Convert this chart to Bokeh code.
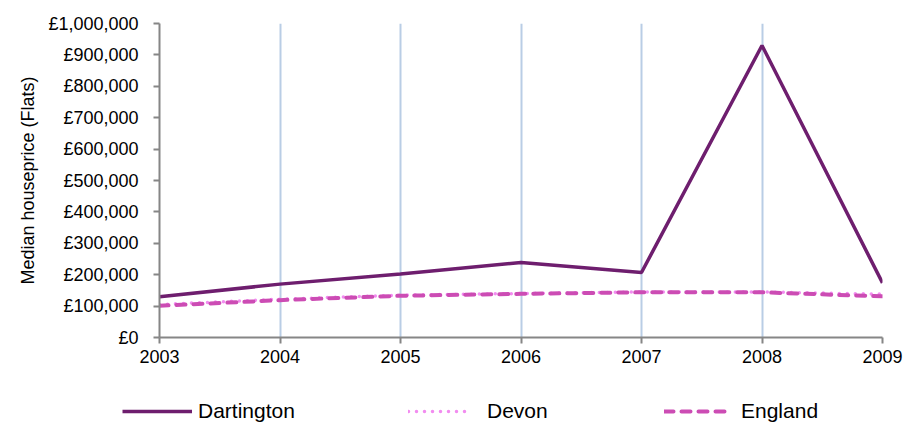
from bokeh.plotting import figure
from bokeh.layouts import column, row
from bokeh.models import Range1d, Legend, LegendItem, CustomJSTickFormatter, FixedTicker, LinearAxis
from bokeh.embed import file_html
from bokeh.resources import INLINE

years = [2003, 2004, 2005, 2006, 2007, 2008, 2009]
dartington = [130000, 170000, 202000, 239000, 207000, 930000, 174000]
devon = [105000, 122000, 135000, 140000, 145000, 145000, 138000]
england = [101000, 119000, 133000, 139000, 144000, 144000, 131000]
y_ticks = [0, 100000, 200000, 300000, 400000, 500000, 600000, 700000, 800000, 900000, 1000000]
series_names = ["Dartington", "Devon", "England"]
y_title = "Median houseprice (Flats)"

FONT = "Liberation Sans"
C_DART = "#6E1E6E"
C_DEV = "#F28CF0"
C_ENG = "#CC4CB4"


def add_lines(fig):
    a = fig.line(years, dartington, line_color=C_DART, line_width=3.5)
    b = fig.line(years, devon, line_color=C_DEV, line_width=3.5, line_dash="0 8", line_cap="round")
    c = fig.line(years, england, line_color=C_ENG, line_width=4, line_dash="9 8", line_cap="round")
    return a, b, c


p = figure(width=920, height=372, output_backend="svg", toolbar_location=None,
           x_range=Range1d(2003, 2009), y_range=Range1d(0, 1000000),
           min_border_left=159, min_border_right=38, min_border_top=23, min_border_bottom=35)
p.outline_line_color = None
p.background_fill_color = "white"
p.border_fill_color = "white"

p.xgrid.grid_line_color = "#B9CDE5"
p.xgrid.grid_line_width = 2
p.ygrid.grid_line_color = None

add_lines(p)

p.xaxis.ticker = FixedTicker(ticks=years)
p.yaxis.ticker = FixedTicker(ticks=y_ticks)
p.yaxis.formatter = CustomJSTickFormatter(code="return '\u00a3' + tick.toLocaleString('en-GB');")

for ax in (p.xaxis[0], p.yaxis[0]):
    ax.axis_line_color = "#868686"
    ax.axis_line_width = 2
    ax.major_tick_line_color = "#868686"
    ax.major_tick_line_width = 2
    ax.major_tick_in = 0
    ax.major_tick_out = 6
    ax.minor_tick_line_color = None
    ax.major_label_text_font = FONT
    ax.major_label_text_font_size = "18px"
    ax.major_label_text_color = "black"
p.xaxis.major_label_standoff = 6
p.yaxis.major_label_standoff = 15

title_axis = LinearAxis(ticker=FixedTicker(ticks=[]),
                        axis_line_color=None, major_tick_line_color=None,
                        minor_tick_line_color=None, axis_label=y_title,
                        axis_label_text_font=FONT, axis_label_text_font_size="18px",
                        axis_label_text_font_style="normal", axis_label_text_color="black",
                        axis_label_standoff=8)
p.add_layout(title_axis, "left")

# legend strip
lg = figure(width=920, height=58, output_backend="svg", toolbar_location=None,
            x_range=Range1d(0, 1), y_range=Range1d(10, 11),
            x_axis_location=None, y_axis_location=None,
            min_border=0, min_border_left=0, min_border_right=0,
            min_border_top=0, min_border_bottom=0)
lg.outline_line_color = None
lg.grid.visible = False
rs = add_lines(lg)

positions = [(122, 7), (408, 7), (664, 7)]
glyph_widths = [70, 62, 68]
standoffs = [6, 17, 9]
for r, name, pos, gw, so in zip(rs, series_names, positions, glyph_widths, standoffs):
    leg = Legend(items=[LegendItem(label=name, renderers=[r])], location=pos,
                 orientation="horizontal", label_text_font=FONT, label_text_font_size="21px",
                 label_text_color="black", glyph_width=gw, glyph_height=20, label_height=20,
                 label_standoff=so, border_line_color=None, background_fill_alpha=0,
                 margin=0, padding=0)
    lg.add_layout(leg, "center")

layout = column(p, row(lg), spacing=0)
open("out.html", "w").write(file_html(layout, INLINE))
